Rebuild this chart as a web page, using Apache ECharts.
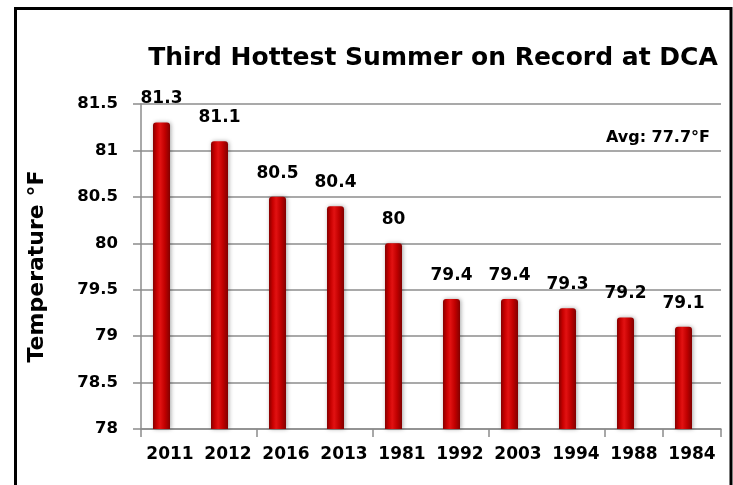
<!DOCTYPE html>
<html>
<head>
<meta charset="utf-8">
<script src="https://cdn.jsdelivr.net/npm/echarts@6/dist/echarts.min.js"></script>
<style>
html,body{margin:0;padding:0;background:#fff;}
#chart{width:733px;height:485px;}
</style>
</head>
<body>
<div id="chart"></div>
<script>
var titleText = 'Third Hottest Summer on Record at DCA';
var yAxisTitle = 'Temperature °F';
var avgNote = 'Avg: 77.7°F';
var years = ['2011', '2012', '2016', '2013', '1981', '1992', '2003', '1994', '1988', '1984'];
var temps = [81.3, 81.1, 80.5, 80.4, 80.0, 79.4, 79.4, 79.3, 79.2, 79.1];
var yMin = 78, yMax = 81.5, yStep = 0.5;

var FONT = 'DejaVu Sans';
var chart = echarts.init(document.getElementById('chart'), null, {renderer: 'canvas'});

var barFill = new echarts.graphic.LinearGradient(0, 0, 1, 0, [
  {offset: 0, color: '#860000'},
  {offset: 0.22, color: '#c80000'},
  {offset: 0.42, color: '#e21212'},
  {offset: 0.7, color: '#c00000'},
  {offset: 1, color: '#820000'}
]);

chart.setOption({
  animation: false,
  backgroundColor: '#ffffff',
  title: {
    text: titleText,
    left: 428,
    top: 41,
    textAlign: 'center',
    textStyle: {fontFamily: FONT, fontWeight: 'bold', fontSize: 25, color: '#000'}
  },
  grid: {left: 141, right: 12, top: 104, bottom: 56, containLabel: false},
  xAxis: {
    type: 'category',
    data: years,
    boundaryGap: true,
    axisLine: {show: true, lineStyle: {color: '#8c8c8c', width: 1.5}},
    axisTick: {show: true, interval: 1, length: 8, lineStyle: {color: '#8c8c8c', width: 1.5}},
    axisLabel: {interval: 0, margin: 17, fontFamily: FONT, fontWeight: 'bold', fontSize: 17, color: '#000'}
  },
  yAxis: {
    type: 'value',
    min: yMin,
    max: yMax,
    interval: yStep,
    name: yAxisTitle,
    nameLocation: 'middle',
    nameRotate: 90,
    nameGap: 93,
    nameTextStyle: {fontFamily: FONT, fontWeight: 'bold', fontSize: 22, color: '#000'},
    axisLine: {show: true, lineStyle: {color: '#8c8c8c', width: 1.5}},
    axisTick: {show: true, length: 8, lineStyle: {color: '#8c8c8c', width: 1.5}},
    splitLine: {show: true, lineStyle: {color: '#8c8c8c', width: 1.5}},
    axisLabel: {margin: 23, fontFamily: FONT, fontWeight: 'bold', fontSize: 16.5, color: '#000'}
  },
  series: [
    {
      type: 'bar',
      data: temps,
      barWidth: 17,
      barGap: '0%',
      itemStyle: {
        color: barFill,
        borderRadius: [3, 3, 0, 0],
        shadowBlur: 4,
        shadowColor: 'rgba(0,0,0,0.35)',
        shadowOffsetX: 1
      },
      label: {
        show: true,
        position: 'top',
        distance: 15,
        fontFamily: FONT,
        fontWeight: 'bold',
        fontSize: 17,
        color: '#000'
      }
    },
    {
      type: 'bar',
      data: years.map(function () { return null; }),
      barWidth: 17,
      silent: true
    }
  ],
  graphic: [
    {
      type: 'text',
      right: 23,
      top: 130,
      style: {text: avgNote, font: 'bold 16px "DejaVu Sans"', fill: '#000'}
    },
    {
      type: 'rect',
      shape: {x: 15.5, y: 8.5, width: 715.5, height: 490},
      style: {fill: 'none', stroke: '#000', lineWidth: 3},
      silent: true
    }
  ]
});
</script>
</body>
</html>
